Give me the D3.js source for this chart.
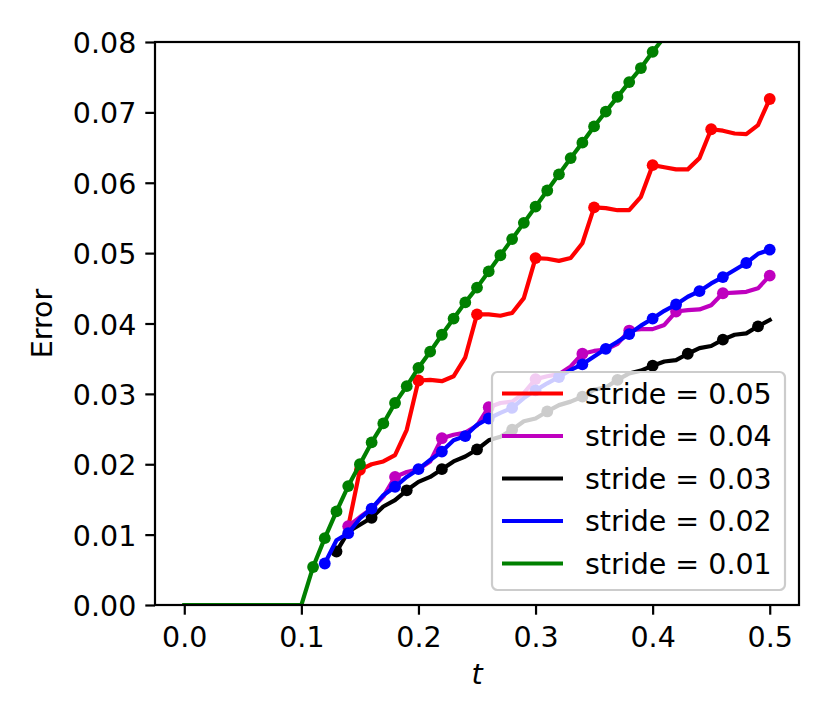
<!DOCTYPE html>
<html>
<head>
<meta charset="utf-8">
<script src="https://cdn.jsdelivr.net/npm/d3@7"></script>
<style>
  html, body { margin: 0; padding: 0; background: #fff; }
  text { font-family: "DejaVu Sans", sans-serif; }
</style>
</head>
<body>
<div id="chart"></div>
<script>
// Tick values
const xTicks = [0.0, 0.1, 0.2, 0.3, 0.4, 0.5];
const yTicks = [0.00, 0.01, 0.02, 0.03, 0.04, 0.05, 0.06, 0.07, 0.08];

// Each series is sampled every 0.01 in t, starting at its own t0
const stride005 = [0.0111, 0.0192, 0.0200, 0.0204, 0.0213, 0.0249, 0.0319, 0.0320, 0.0318, 0.0325,
  0.0352, 0.0413, 0.0413, 0.0411, 0.0415, 0.0436, 0.0493, 0.0492, 0.0489, 0.0493,
  0.0514, 0.0565, 0.0564, 0.0561, 0.0561, 0.0580, 0.0625, 0.0622, 0.0619, 0.0619,
  0.0635, 0.0676, 0.0674, 0.0670, 0.0669, 0.0682, 0.0719];
const stride004 = [0.0112, 0.0125, 0.0137, 0.0154, 0.0182, 0.0189, 0.0193, 0.0204, 0.0237, 0.0242,
  0.0245, 0.0255, 0.0281, 0.0287, 0.0289, 0.0301, 0.0321, 0.0325, 0.0328, 0.0339,
  0.0357, 0.0361, 0.0363, 0.0371, 0.0390, 0.0392, 0.0392, 0.0398, 0.0417, 0.0419,
  0.0420, 0.0426, 0.0443, 0.0444, 0.0445, 0.0450, 0.0468];
const stride003 = [0.0076, 0.0104, 0.0114, 0.0124, 0.0140, 0.0149, 0.0163, 0.0175, 0.0182, 0.0193,
  0.0204, 0.0211, 0.0221, 0.0234, 0.0239, 0.0249, 0.0261, 0.0265, 0.0275, 0.0284,
  0.0289, 0.0296, 0.0306, 0.0309, 0.0320, 0.0329, 0.0333, 0.0340, 0.0346, 0.0348,
  0.0357, 0.0365, 0.0368, 0.0377, 0.0384, 0.0386, 0.0396, 0.0405];
const stride002 = [0.0059, 0.0092, 0.0102, 0.0123, 0.0137, 0.0156, 0.0168, 0.0182, 0.0193, 0.0206,
  0.0218, 0.0234, 0.0240, 0.0256, 0.0265, 0.0273, 0.0280, 0.0294, 0.0305, 0.0315,
  0.0324, 0.0334, 0.0342, 0.0353, 0.0364, 0.0374, 0.0385, 0.0397, 0.0407, 0.0418,
  0.0427, 0.0438, 0.0446, 0.0457, 0.0466, 0.0476, 0.0486, 0.0499, 0.0505];
const stride001 = [0, 0, 0, 0, 0, 0, 0, 0, 0, 0, 0,
  0.0054, 0.0095, 0.0133, 0.0169, 0.0200, 0.0231, 0.0258, 0.0287, 0.0311, 0.0337,
  0.0360, 0.0384, 0.0407, 0.0430, 0.0451, 0.0474, 0.0497, 0.0520, 0.0543, 0.0566,
  0.0589, 0.0612, 0.0635, 0.0657, 0.0680, 0.0701, 0.0722, 0.0743, 0.0763, 0.0786, 0.0807];

const series = [
  { label: "stride = 0.05", color: "#ff0000", t0: 0.14, stride: 0.05, values: stride005 },
  { label: "stride = 0.04", color: "#bf00bf", t0: 0.14, stride: 0.04, values: stride004 },
  { label: "stride = 0.03", color: "#000000", t0: 0.13, stride: 0.03, values: stride003 },
  { label: "stride = 0.02", color: "#0000ff", t0: 0.12, stride: 0.02, values: stride002 },
  { label: "stride = 0.01", color: "#008000", t0: 0.00, stride: 0.01, values: stride001 }
];

const width = 830, height = 727;
const margin = { left: 155, right: 31, top: 42, bottom: 122 };
const fs = 28.5;

const x = d3.scaleLinear().domain([-0.025, 0.525]).range([margin.left, width - margin.right]);
const y = d3.scaleLinear().domain([0, 0.08]).range([height - margin.bottom, margin.top]);

const svg = d3.select("#chart").append("svg")
  .attr("width", width)
  .attr("height", height);

svg.append("defs").append("clipPath").attr("id", "plot-clip")
  .append("rect")
  .attr("x", x.range()[0]).attr("y", y.range()[1])
  .attr("width", x.range()[1] - x.range()[0])
  .attr("height", y.range()[0] - y.range()[1]);

// points: t is rebuilt from the sample index, markers sit at 0.1 + k*stride
const toPoints = (s) => s.values.map((v, i) => {
  const t = Math.round((s.t0 + i * 0.01) * 100) / 100;
  const k = (t - 0.1) / s.stride;
  return { t, v, mark: t > 0.1 && Math.abs(k - Math.round(k)) < 1e-6 };
});

const line = d3.line().x((d) => x(d.t)).y((d) => y(d.v));

const plot = svg.append("g").attr("clip-path", "url(#plot-clip)");

series.forEach((s) => {
  const pts = toPoints(s);
  const g = plot.append("g");
  g.append("path")
    .datum(pts)
    .attr("fill", "none")
    .attr("stroke", s.color)
    .attr("stroke-width", 4.2)
    .attr("stroke-linejoin", "round")
    .attr("stroke-linecap", "square")
    .attr("d", line);
  g.selectAll("circle")
    .data(pts.filter((d) => d.mark))
    .join("circle")
    .attr("cx", (d) => x(d.t))
    .attr("cy", (d) => y(d.v))
    .attr("r", 5.9)
    .attr("fill", s.color);
});

// axes
const xAxis = svg.append("g")
  .attr("transform", `translate(0,${y.range()[0]})`)
  .call(d3.axisBottom(x).tickValues(xTicks).tickFormat(d3.format(".1f")).tickSize(9.7).tickPadding(7));
const yAxis = svg.append("g")
  .attr("transform", `translate(${x.range()[0]},0)`)
  .call(d3.axisLeft(y).tickValues(yTicks).tickFormat(d3.format(".2f")).tickSize(9.7).tickPadding(9));

[xAxis, yAxis].forEach((a) => {
  a.select(".domain").remove();
  a.selectAll(".tick line").attr("stroke", "#000").attr("stroke-width", 2.2);
  a.selectAll(".tick text").attr("font-size", fs).attr("fill", "#000")
    .attr("font-family", "DejaVu Sans, sans-serif");
});
xAxis.selectAll(".tick text").attr("dy", null).attr("y", 0).attr("dominant-baseline", null)
  .attr("transform", "translate(0,42)");
yAxis.selectAll(".tick text").attr("dy", "0.37em");

// frame
svg.append("rect")
  .attr("x", x.range()[0]).attr("y", y.range()[1])
  .attr("width", x.range()[1] - x.range()[0])
  .attr("height", y.range()[0] - y.range()[1])
  .attr("fill", "none")
  .attr("stroke", "#000")
  .attr("stroke-width", 2.2);

// axis labels
svg.append("text")
  .attr("x", (x.range()[0] + x.range()[1]) / 2)
  .attr("y", 684)
  .attr("text-anchor", "middle")
  .attr("font-size", fs)
  .attr("font-style", "italic")
  .text("t");
svg.append("text")
  .attr("transform", `translate(52,${(y.range()[0] + y.range()[1]) / 2}) rotate(-90)`)
  .attr("text-anchor", "middle")
  .attr("font-size", fs)
  .text("Error");

// legend
const legend = svg.append("g");
legend.append("rect")
  .attr("x", 492).attr("y", 372)
  .attr("width", 293).attr("height", 218)
  .attr("rx", 5.5)
  .attr("fill", "#fff").attr("fill-opacity", 0.8)
  .attr("stroke", "#cccccc").attr("stroke-width", 2.2);
const rows = legend.selectAll("g.row")
  .data(series)
  .join("g")
  .attr("class", "row")
  .attr("transform", (d, i) => `translate(0,${393.5 + i * 42.5})`);
rows.append("line")
  .attr("x1", 502).attr("x2", 563)
  .attr("stroke", (d) => d.color)
  .attr("stroke-width", 4.2);
rows.append("text")
  .attr("x", 585)
  .attr("dy", "0.36em")
  .attr("font-size", fs)
  .attr("fill", "#000")
  .text((d) => d.label);
</script>
</body>
</html>
